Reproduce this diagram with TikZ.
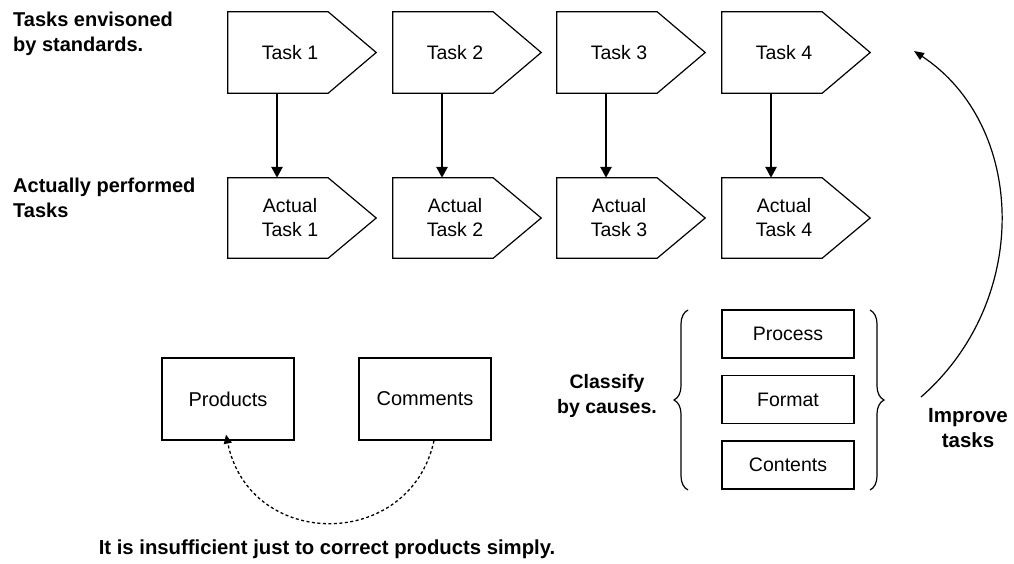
\documentclass[tikz,border=0pt]{standalone}
\usepackage{fontspec}
\setmainfont{Liberation Sans}
\usetikzlibrary{arrows.meta,decorations.pathreplacing}
\begin{document}
\begin{tikzpicture}[x=1pt,y=-1pt,
  tasknode/.style={minimum width=148pt,minimum height=81pt,inner sep=0pt,font=\fontsize{19.5}{24}\selectfont,align=center},
  shp/.style={line width=1.2pt,line join=miter},
  box/.style={draw,line width=1.2pt,minimum width=132pt,minimum height=82pt,inner sep=0pt,font=\fontsize{20}{24}\selectfont},
  cbox/.style={draw,line width=1.2pt,minimum width=132pt,minimum height=48pt,inner sep=0pt,font=\fontsize{19.5}{24}\selectfont},
  lbl/.style={font=\bfseries\fontsize{20}{25}\selectfont,align=left,inner sep=0pt},
  clbl/.style={font=\bfseries\fontsize{19.5}{25}\selectfont,align=center,inner sep=0pt},
  thick arrow/.style={line width=2.6pt,-{Triangle[length=11pt,width=11pt]}},
  brc/.style={decorate,decoration={brace,amplitude=14pt},line width=1.2pt}
]
\useasboundingbox (0,0) rectangle (1014,563);
\fill[white] (0,0) rectangle (1014,563);

\node[lbl,anchor=north west] (l1) at (13,12) {Tasks envisoned\\by standards.};
\node[lbl,anchor=north west] (l2) at (13,178) {Actually performed\\Tasks};

\foreach \i/\x in {1/302,2/467,3/631,4/796}{
  \node[tasknode] (t\i) at (\x,52.5) {Task \i\hspace*{24pt}};
  \draw[shp] (t\i.north west) -- ([xshift=-48pt]t\i.north east) -- (t\i.east) -- ([xshift=-48pt]t\i.south east) -- (t\i.south west) -- cycle;
  \node[tasknode,minimum height=80pt] (a\i) at (\x,218) {Actual\hspace*{24pt}\\Task \i\hspace*{24pt}};
  \draw[shp] (a\i.north west) -- ([xshift=-48pt]a\i.north east) -- (a\i.east) -- ([xshift=-48pt]a\i.south east) -- (a\i.south west) -- cycle;
  \draw[thick arrow] ([xshift=-25pt]t\i.south) -- ([xshift=-25pt]a\i.north);
}

\node[box] (prod) at (228,399) {Products};
\node[box] (comm) at (425,399) {Comments};
\draw[line width=1.3pt,dash pattern=on 3pt off 2.5pt,-{Triangle[length=9pt,width=8pt]}]
  ([xshift=9pt]comm.south) .. controls (410,551) and (250,551) .. ([xshift=-2pt,yshift=6pt]prod.south);
\node[font=\bfseries\fontsize{20.3}{24}\selectfont] (note) at (327,549) {It is insufficient just to correct products simply.};

\node[clbl] (cls) at (607,396) {Classify\\by causes.};
\node[cbox] (proc) at (788,334) {Process};
\node[cbox] (form) at (788,399.5) {Format};
\node[cbox] (cont) at (788,465) {Contents};
\coordinate (lb1) at (688,490);
\coordinate (lb2) at (688,310);
\coordinate (rb1) at (870,310);
\coordinate (rb2) at (870,490);
\draw[brc] (lb1) -- (lb2);
\draw[brc] (rb1) -- (rb2);

\node[font=\bfseries\fontsize{20.5}{25}\selectfont,align=center,inner sep=0pt] (imp) at (968,428) {Improve\\tasks};
\coordinate (is) at (921,397);
\coordinate (ie) at (914,51);
\draw[line width=1.2pt,-{Triangle[length=10pt,width=8pt]}] (is) .. controls (1032,300) and (1026,125) .. (ie);
\end{tikzpicture}
\end{document}
